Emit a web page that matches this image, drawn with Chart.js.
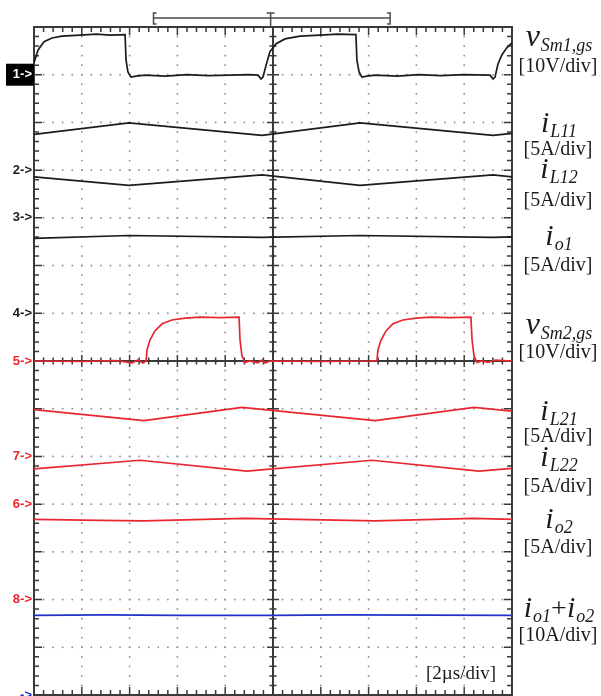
<!DOCTYPE html>
<html>
<head>
<meta charset="utf-8">
<script src="https://cdn.jsdelivr.net/npm/chart.js@4.4.0/dist/chart.umd.min.js"></script>
<style>
  html, body { margin: 0; padding: 0; background: #fff; }
  canvas { display: block; }
</style>
</head>
<body>
<canvas id="scope" width="601" height="696"></canvas>
<script>
// Each point is [time in µs (2 µs/div), level in screen divisions counted from the bottom]
const vSm1 = [[0,13.25],[0.17,13.52],[0.42,13.69],[0.75,13.77],[1.17,13.81],[1.92,13.83],[2.6,13.85],[3.2,13.83],[3.81,13.84],
  [3.85,13.31],[3.93,13.06],[4.06,12.95],[4.27,12.97],[4.64,12.99],[5.5,12.97],[6.4,13.0],[7.3,12.98],[8.2,12.99],[9.0,13.0],
  [9.37,12.99],[9.50,12.91],[9.58,12.95],[9.71,13.20],[9.87,13.48],[10.13,13.65],[10.50,13.75],[11.13,13.81],[11.97,13.83],
  [12.7,13.85],[13.47,13.84],[13.51,13.31],[13.60,13.06],[13.72,12.95],[13.93,12.97],[14.27,12.99],[15.2,12.97],[16.1,13.0],
  [17.0,12.98],[18.0,13.0],[19.08,12.99],[19.21,12.91],[19.29,12.95],[19.41,13.22],[19.58,13.42],[19.79,13.57],[20.0,13.67]];
const iL11 = [[0,11.75],[3.97,11.99],[9.54,11.73],[13.64,11.99],[19.21,11.73],[20,11.77]];
const iL12 = [[0,10.86],[3.97,10.68],[9.54,10.90],[13.64,10.68],[19.21,10.90],[20,10.86]];
const io1 = [[0,9.57],[3.97,9.63],[9.54,9.59],[13.64,9.63],[19.21,9.59],[20,9.60]];
const vSm2 = [[0,7.0],[2.0,6.99],[3.4,7.01],[4.10,6.96],[4.35,7.02],[4.56,6.96],[4.69,7.0],[4.73,7.23],[4.85,7.44],[5.06,7.63],
  [5.36,7.78],[5.77,7.86],[6.32,7.90],[6.95,7.92],[7.8,7.91],[8.58,7.92],[8.62,7.44],[8.70,7.11],[8.83,6.97],[9.04,7.0],
  [9.37,6.96],[9.54,7.02],[9.67,6.96],[9.87,7.0],[12.0,6.99],[14.06,7.0],[14.35,7.01],[14.39,7.23],[14.52,7.44],[14.73,7.63],
  [15.02,7.78],[15.44,7.86],[15.98,7.90],[16.61,7.92],[17.4,7.91],[18.28,7.92],[18.33,7.44],[18.41,7.11],[18.54,6.97],
  [18.74,7.0],[19.0,6.97],[19.3,7.02],[20.0,7.0]];
const iL21 = [[0,5.98],[4.60,5.75],[8.70,6.03],[14.27,5.75],[18.41,6.03],[20,5.95]];
const iL22 = [[0,4.74],[4.44,4.92],[8.91,4.69],[14.14,4.92],[18.62,4.69],[20,4.75]];
const io2 = [[0,3.68],[2.76,3.66],[4.6,3.65],[8.8,3.70],[14.27,3.65],[18.4,3.70],[20,3.68]];
const ioSum = [[0,1.67],[3,1.68],[6,1.67],[10,1.67],[13,1.68],[20,1.67]];

// channel reference markers on the left edge
const markerNames = ['1', '2', '3', '4', '5', '7', '6', '8', ''];
const markerLevels = [13, 11, 10, 8, 7, 5, 4, 2, 0];

const BLACK = '#1c1c1c', RED = '#e8262f', BLUE = '#1f33c8';
const markerColors = ['#fff', BLACK, BLACK, BLACK, RED, RED, RED, RED, BLUE];

// right-hand trace names: k = main | sub | op, plus the scale text
const traceLabels = [
  { segs: [['v','main'],['Sm1,gs','sub']], unit: '[10V/div]', y: 46, uy: 72 },
  { segs: [['i','main'],['L11','sub']], unit: '[5A/div]', y: 132, uy: 155 },
  { segs: [['i','main'],['L12','sub']], unit: '[5A/div]', y: 178, uy: 206 },
  { segs: [['i','main'],['o1','sub']], unit: '[5A/div]', y: 245, uy: 271 },
  { segs: [['v','main'],['Sm2,gs','sub']], unit: '[10V/div]', y: 334, uy: 358 },
  { segs: [['i','main'],['L21','sub']], unit: '[5A/div]', y: 420, uy: 442 },
  { segs: [['i','main'],['L22','sub']], unit: '[5A/div]', y: 466, uy: 492 },
  { segs: [['i','main'],['o2','sub']], unit: '[5A/div]', y: 528, uy: 553 },
  { segs: [['i','main'],['o1','sub'],['+','op'],['i','main'],['o2','sub']], unit: '[10A/div]', y: 617, uy: 641 }
];

function toPoints(arr) {
  return arr.map(p => ({ x: p[0], y: p[1] }));
}

function fontFor(k, txt) {
  if (k === 'main') return 'italic ' + (txt === 'v' ? 32 : 30) + 'px "Liberation Serif", serif';
  if (k === 'sub') return 'italic 18px "Liberation Serif", serif';
  return '28px "Liberation Serif", serif';
}

const scopeGrid = {
  id: 'scopeGrid',
  beforeDatasetsDraw(chart) {
    const { ctx, chartArea: a, scales: { x, y } } = chart;
    ctx.save();
    // dotted graticule
    ctx.fillStyle = '#8c8c8c';
    for (let i = 1; i < 10; i++) {
      if (i === 5) continue;
      const px = x.getPixelForValue(i * 2);
      for (let j = 1; j < 70; j++) {
        const py = y.getPixelForValue(j / 5);
        ctx.fillRect(px - 0.8, py - 0.8, 1.6, 1.6);
      }
    }
    for (let j = 1; j < 14; j++) {
      if (j === 7) continue;
      const py = y.getPixelForValue(j);
      for (let i = 1; i < 50; i++) {
        const px = x.getPixelForValue(i * 0.4);
        ctx.fillRect(px - 0.8, py - 0.8, 1.6, 1.6);
      }
    }
    // frame and centre axes
    ctx.strokeStyle = '#3a3a3a';
    ctx.lineWidth = 2;
    ctx.strokeRect(a.left, a.top, a.right - a.left, a.bottom - a.top);
    const cx = x.getPixelForValue(10), cy = y.getPixelForValue(7);
    ctx.beginPath();
    ctx.moveTo(cx, a.top); ctx.lineTo(cx, a.bottom);
    ctx.moveTo(a.left, cy); ctx.lineTo(a.right, cy);
    ctx.stroke();
    // ticks
    ctx.lineWidth = 1.5;
    ctx.beginPath();
    for (let i = 1; i < 50; i++) {
      const px = x.getPixelForValue(i * 0.4);
      const major = i % 5 === 0;
      const len = major ? 8 : 5;
      ctx.moveTo(px, a.top); ctx.lineTo(px, a.top + len);
      ctx.moveTo(px, a.bottom); ctx.lineTo(px, a.bottom - len);
      const c = major ? 6 : 3.5;
      ctx.moveTo(px, cy - c); ctx.lineTo(px, cy + c);
    }
    for (let j = 1; j < 70; j++) {
      const py = y.getPixelForValue(j / 5);
      const major = j % 5 === 0;
      const len = major ? 8 : 5;
      ctx.moveTo(a.left, py); ctx.lineTo(a.left + len, py);
      ctx.moveTo(a.right, py); ctx.lineTo(a.right - len, py);
      const c = major ? 6 : 3.5;
      ctx.moveTo(cx - c, py); ctx.lineTo(cx + c, py);
    }
    ctx.stroke();
    ctx.restore();
  }
};

const scopeText = {
  id: 'scopeText',
  afterDraw(chart) {
    const { ctx, chartArea: a, scales: { x, y } } = chart;
    ctx.save();
    // record bracket on top
    const bx0 = x.getPixelForValue(5.0), bx1 = x.getPixelForValue(14.9), bt = x.getPixelForValue(9.9);
    ctx.strokeStyle = '#4a4a4a';
    ctx.lineWidth = 1.5;
    ctx.beginPath();
    ctx.moveTo(bx0, 18); ctx.lineTo(bx1, 18);
    ctx.moveTo(bx0 + 3, 13); ctx.lineTo(bx0, 13); ctx.lineTo(bx0, 24); ctx.lineTo(bx0 + 3, 24);
    ctx.moveTo(bx1 - 3, 13); ctx.lineTo(bx1, 13); ctx.lineTo(bx1, 24); ctx.lineTo(bx1 - 3, 24);
    ctx.moveTo(bt - 4, 13); ctx.lineTo(bt + 4, 13);
    ctx.moveTo(bt, 13); ctx.lineTo(bt, a.top);
    ctx.stroke();

    // channel markers
    ctx.font = 'bold 13px "Liberation Sans", Arial, sans-serif';
    ctx.textBaseline = 'middle';
    ctx.textAlign = 'right';
    markerLevels.forEach((lv, i) => {
      const py = y.getPixelForValue(lv);
      if (i === 0) {
        ctx.fillStyle = '#000';
        ctx.fillRect(6, py - 11, a.left - 6, 22);
      }
      ctx.fillStyle = markerColors[i];
      ctx.fillText(markerNames[i] + '->', a.left - 2, py);
    });

    // trace names on the right
    ctx.textBaseline = 'alphabetic';
    ctx.textAlign = 'left';
    ctx.fillStyle = '#1a1a1a';
    const cxLab = 559;
    traceLabels.forEach(l => {
      let w = 0;
      l.segs.forEach(s => { ctx.font = fontFor(s[1], s[0]); w += ctx.measureText(s[0]).width + (s[1] === 'main' ? 1 : 0); });
      let xx = cxLab - w / 2;
      l.segs.forEach(s => {
        ctx.font = fontFor(s[1], s[0]);
        ctx.fillText(s[0], xx, l.y + (s[1] === 'sub' ? 5 : 0));
        xx += ctx.measureText(s[0]).width + (s[1] === 'main' ? 1 : 0);
      });
      ctx.font = '20px "Liberation Serif", serif';
      ctx.textAlign = 'center';
      ctx.fillText(l.unit, cxLab - 1, l.uy);
      ctx.textAlign = 'left';
    });

    // time base
    ctx.font = '19px "Liberation Serif", serif';
    ctx.textAlign = 'left';
    ctx.fillText('[2\u00b5s/div]', 426, 679);
    ctx.restore();
  }
};

function trace(data, color) {
  return { data: toPoints(data), borderColor: color, borderWidth: 1.7, pointRadius: 0, tension: 0, fill: false };
}

new Chart(document.getElementById('scope').getContext('2d'), {
  type: 'line',
  data: {
    datasets: [
      trace(vSm1, BLACK), trace(iL11, BLACK), trace(iL12, BLACK), trace(io1, BLACK),
      trace(vSm2, RED), trace(iL21, RED), trace(iL22, RED), trace(io2, RED),
      trace(ioSum, BLUE)
    ]
  },
  options: {
    responsive: false,
    animation: false,
    layout: { padding: { left: 34, right: 89, top: 27, bottom: 1 } },
    scales: {
      x: { type: 'linear', min: 0, max: 20, display: false },
      y: { type: 'linear', min: 0, max: 14, display: false }
    },
    plugins: { legend: { display: false }, tooltip: { enabled: false } }
  },
  plugins: [scopeGrid, scopeText]
});
</script>
</body>
</html>
